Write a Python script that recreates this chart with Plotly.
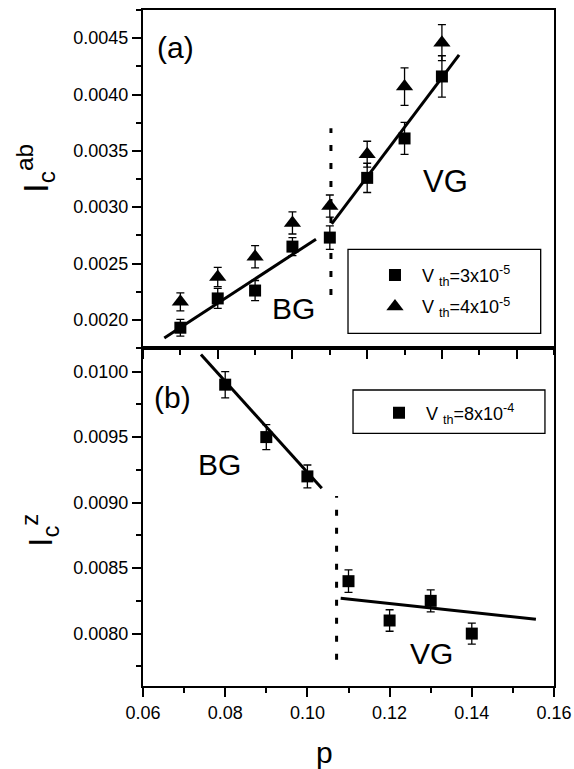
import plotly.graph_objects as go

# ---- data ----
p_ab = [0.07, 0.08, 0.09, 0.10, 0.11, 0.12, 0.13, 0.14]
ic_ab_v3 = [0.00193, 0.00219, 0.00226, 0.00265, 0.00273, 0.00326, 0.00361, 0.00416]
err_ab_v3 = [0.000074, 0.000089, 0.000089, 0.00008, 0.000104, 0.00013, 0.000142, 0.000184]
ic_ab_v4 = [0.00216, 0.00238, 0.00256, 0.00286, 0.00301, 0.00347, 0.00407, 0.00446]
err_ab_v4 = [0.00008, 0.000086, 0.000098, 0.000098, 0.000098, 0.000115, 0.000166, 0.00016]

p_z = [0.08, 0.09, 0.10, 0.11, 0.12, 0.13, 0.14]
ic_z = [0.0099, 0.0095, 0.0092, 0.0084, 0.0081, 0.00825, 0.0080]
err_z = [0.0001, 0.000095, 0.000087, 0.000086, 0.000082, 0.000084, 0.00008]

fit_ab_bg_p = [0.0657, 0.1063]
fit_ab_bg_i = [0.001838, 0.002716]
fit_ab_vg_p = [0.1105, 0.1446]
fit_ab_vg_i = [0.002852, 0.004352]
fit_z_bg_p = [0.0741, 0.1035]
fit_z_bg_i = [0.01013, 0.00911]
fit_z_vg_p = [0.1081, 0.1556]
fit_z_vg_i = [0.00827, 0.00811]
bound_ab_p = [0.1103, 0.1103]
bound_ab_i = [0.00222, 0.00370]
bound_z_p = [0.1071, 0.1071]
bound_z_i = [0.00780, 0.00905]

FONT = "Arial, Liberation Sans, sans-serif"
BLACK = "black"

fig = go.Figure()

def err(vals):
    return dict(type="data", array=vals, visible=True, color=BLACK, thickness=1.3, width=4)

# top panel (a)
fig.add_trace(go.Scatter(x=p_ab, y=ic_ab_v3, mode="markers", xaxis="x2", yaxis="y2",
                         marker=dict(symbol="square", size=12, color=BLACK),
                         error_y=err(err_ab_v3), name="V <sub>th</sub>=3x10<sup>-5</sup>",
                         legend="legend", legendgroup="a1"))
fig.add_trace(go.Scatter(x=p_ab, y=ic_ab_v4, mode="markers", xaxis="x2", yaxis="y2",
                         marker=dict(symbol="triangle-up", size=15, color=BLACK),
                         error_y=err(err_ab_v4), name="V <sub>th</sub>=4x10<sup>-5</sup>",
                         legend="legend", legendgroup="a2"))
for px_, iy_ in [(fit_ab_bg_p, fit_ab_bg_i), (fit_ab_vg_p, fit_ab_vg_i)]:
    fig.add_trace(go.Scatter(x=px_, y=iy_, mode="lines", xaxis="x2", yaxis="y2",
                             line=dict(color=BLACK, width=3), showlegend=False))
fig.add_trace(go.Scatter(x=bound_ab_p, y=bound_ab_i, mode="lines", xaxis="x2", yaxis="y2",
                         line=dict(color=BLACK, width=3, dash="6px,12px"), showlegend=False))

# bottom panel (b)
fig.add_trace(go.Scatter(x=p_z, y=ic_z, mode="markers", xaxis="x", yaxis="y",
                         marker=dict(symbol="square", size=12, color=BLACK),
                         error_y=err(err_z), name="V <sub>th</sub>=8x10<sup>-4</sup>",
                         legend="legend2"))
for px_, iy_ in [(fit_z_bg_p, fit_z_bg_i), (fit_z_vg_p, fit_z_vg_i)]:
    fig.add_trace(go.Scatter(x=px_, y=iy_, mode="lines", xaxis="x", yaxis="y",
                             line=dict(color=BLACK, width=3), showlegend=False))
fig.add_trace(go.Scatter(x=bound_z_p, y=bound_z_i, mode="lines", xaxis="x", yaxis="y",
                         line=dict(color=BLACK, width=3, dash="6px,12px"), showlegend=False))

axis_common = dict(showline=True, linecolor=BLACK, linewidth=2, mirror=True,
                   ticks="outside", ticklen=9, tickwidth=1.5, tickcolor=BLACK,
                   showgrid=False, zeroline=False, automargin=False,
                   tickfont=dict(family=FONT, size=18, color=BLACK))

fig.update_layout(
    width=574, height=769, autosize=False,
    margin=dict(l=143, r=20, t=10, b=83, autoexpand=False),
    paper_bgcolor="white", plot_bgcolor="white",
    font=dict(family=FONT, color=BLACK),
    xaxis=dict(axis_common, domain=[0, 1], anchor="y", range=[0.06, 0.16],
               tickmode="linear", tick0=0.06, dtick=0.02, tickformat=".2f",
               minor=dict(dtick=0.01, tick0=0.06, ticklen=5, tickwidth=1.5,
                          tickcolor=BLACK, ticks="outside")),
    xaxis2=dict(axis_common, domain=[0, 1], anchor="y2", range=[0.06, 0.17],
                tickmode="linear", tick0=0.06, dtick=0.02, showticklabels=False,
                minor=dict(dtick=0.01, tick0=0.06, ticklen=5, tickwidth=1.5,
                           tickcolor=BLACK, ticks="outside")),
    yaxis=dict(axis_common, domain=[0, 0.5], anchor="x", range=[0.0076, 0.01018],
               tickmode="linear", tick0=0.0080, dtick=0.0005, tickformat=".4f",
               minor=dict(dtick=0.00025, tick0=0.0080, ticklen=5, tickwidth=1.5,
                          tickcolor=BLACK, ticks="outside")),
    yaxis2=dict(axis_common, domain=[0.5, 1], anchor="x2", range=[0.00175, 0.00475],
                tickmode="linear", tick0=0.0020, dtick=0.0005, tickformat=".4f",
                minor=dict(dtick=0.00025, tick0=0.0020, ticklen=5, tickwidth=1.5,
                           tickcolor=BLACK, ticks="outside")),
    legend=dict(x=0.5474, y=0.6349, xanchor="left", yanchor="top",
                bgcolor="rgba(0,0,0,0)", borderwidth=0, itemwidth=44,
                traceorder="grouped", tracegroupgap=5,
                font=dict(family=FONT, size=18, color=BLACK)),
    legend2=dict(x=0.5572, y=0.4312, xanchor="left", yanchor="top",
                 bgcolor="rgba(0,0,0,0)", borderwidth=0, itemwidth=44,
                 font=dict(family=FONT, size=18, color=BLACK)),
    shapes=[
        dict(type="rect", xref="paper", yref="paper", x0=0.4988, x1=0.9676,
             y0=0.5217, y1=0.646, line=dict(color=BLACK, width=1.3)),
        dict(type="rect", xref="paper", yref="paper", x0=0.511, x1=0.978,
             y0=0.3738, y1=0.4379, line=dict(color=BLACK, width=1.3)),
    ],
)

ann = [
    dict(text="(a)", x=0.0688, y=0.004419, xref="x2", yref="y2", size=30),
    dict(text="BG", x=0.10034, y=0.0021, xref="x2", yref="y2", size=30),
    dict(text="VG", x=0.1409, y=0.003228, xref="x2", yref="y2", size=31),
    dict(text="(b)", x=0.06706, y=0.009803, xref="x", yref="y", size=30),
    dict(text="BG", x=0.07866, y=0.009292, xref="x", yref="y", size=30),
    dict(text="VG", x=0.13015, y=0.007846, xref="x", yref="y", size=30),
]
for a in ann:
    fig.add_annotation(text=a["text"], x=a["x"], y=a["y"], xref=a["xref"], yref=a["yref"],
                       showarrow=False, xanchor="center", yanchor="middle",
                       font=dict(family=FONT, size=a["size"], color=BLACK))

fig.add_annotation(text="I<sub>c</sub><sup>ab</sup>", x=-0.2603, y=0.7648, xref="paper", yref="paper",
                   showarrow=False, textangle=-90, xanchor="center", yanchor="middle",
                   font=dict(family=FONT, size=35, color=BLACK))
fig.add_annotation(text="I<sub>c</sub><sup>z</sup>", x=-0.2506, y=0.2293, xref="paper", yref="paper",
                   showarrow=False, textangle=-90, xanchor="center", yanchor="middle",
                   font=dict(family=FONT, size=34, color=BLACK))
fig.add_annotation(text="p", x=0.4428, y=-0.0991, xref="paper", yref="paper",
                   showarrow=False, xanchor="center", yanchor="middle",
                   font=dict(family=FONT, size=30, color=BLACK))

fig.write_html("out.html", config={"displayModeBar": False},
               post_script="document.body.style.margin='0px';document.body.style.overflow='hidden';")
